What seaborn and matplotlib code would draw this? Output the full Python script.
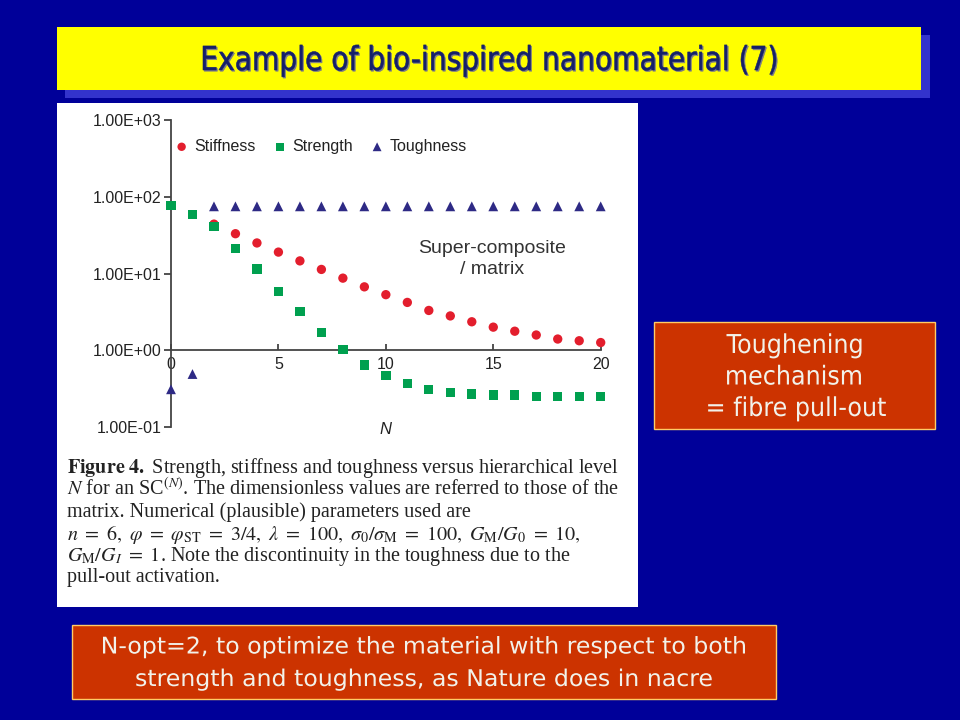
import numpy as np
import pandas as pd
import matplotlib
matplotlib.use('Agg')
import matplotlib.pyplot as plt
import matplotlib.patches as mpatches
from matplotlib.ticker import FixedLocator, NullLocator
from matplotlib.textpath import TextPath
from matplotlib.font_manager import FontProperties
from matplotlib.transforms import Affine2D, IdentityTransform
import seaborn as sns

# values (dimensionless, relative to the matrix)
stiffness_n = [2, 3, 4, 5, 6, 7, 8, 9, 10, 11, 12, 13, 14, 15, 16, 17, 18, 19, 20]
stiffness = [44, 33, 25, 19, 14.6, 11.3, 8.7, 6.7, 5.3, 4.2, 3.3, 2.8, 2.35, 2.0, 1.77, 1.58, 1.40, 1.33, 1.26]
strength_n = [0, 1, 2, 3, 4, 5, 6, 7, 8, 9, 10, 11, 12, 13, 14, 15, 16, 17, 18, 19, 20]
strength = [77, 59, 41, 21, 11.4, 5.8, 3.2, 1.7, 1.03, 0.64, 0.47, 0.37, 0.31, 0.28, 0.27, 0.26, 0.26, 0.25, 0.25, 0.25, 0.25]
toughness_n = [0, 1, 2, 3, 4, 5, 6, 7, 8, 9, 10, 11, 12, 13, 14, 15, 16, 17, 18, 19, 20]
toughness = [0.31, 0.49, 75, 75, 75, 75, 75, 75, 75, 75, 75, 75, 75, 75, 75, 75, 75, 75, 75, 75, 75]

y_ticks = [0.1, 1, 10, 100, 1000]
y_tick_labels = ['1.00E-01', '1.00E+00', '1.00E+01', '1.00E+02', '1.00E+03']
x_ticks = [0, 5, 10, 15, 20]

title = 'Example of bio-inspired nanomaterial (7)'
caption = [
    r'$\mathbf{Figure\ 4.}$ Strength, stiffness and toughness versus hierarchical level',
    r'$N$ for an SC$^{(N)}$. The dimensionless values are referred to those of the',
    'matrix. Numerical (plausible) parameters used are',
    r'$n\ =\ 6,\ \varphi\ =\ \varphi_{\rm ST}\ =\ 3/4,\ \lambda\ =\ 100,\ \sigma_0/\sigma_{\rm M}\ =\ 100,\ G_{\rm M}/G_0\ =\ 10,$',
    r'$G_{\rm M}/G_I\ =\ 1$. Note the discontinuity in the toughness due to the',
    'pull-out activation.',
]
side_lines = ['Toughening', 'mechanism', '= fibre pull-out']
bottom_lines = ['N-opt=2, to optimize the material with respect to both',
                'strength and toughness, as Nature does in nacre']

sns.set_theme(style='white')
plt.rcParams['font.family'] = ['Liberation Sans', 'DejaVu Sans']
plt.rcParams['mathtext.fontset'] = 'stix'

W, H = 960, 720
fig = plt.figure(figsize=(9.6, 7.2), dpi=100, facecolor='#000099')


def box(x0, y0, x1, y1):
    return [x0 / W, 1 - y1 / H, (x1 - x0) / W, (y1 - y0) / H]


def rect(x0, y0, x1, y1, fc, ec='none', lw=0):
    b = box(x0, y0, x1, y1)
    fig.add_artist(mpatches.Rectangle((b[0], b[1]), b[2], b[3], transform=fig.transFigure,
                                      fc=fc, ec=ec, lw=lw, zorder=-1))


def ptext(x, y, s, **kw):
    return fig.text(x / W, 1 - y / H, s, **kw)


def fit_width(t, target):
    r = fig.canvas.get_renderer()
    w = t.get_window_extent(r).width
    t.set_fontsize(t.get_fontsize() * target / w)
    return t.get_fontsize()


# slide fonts are Tahoma-like: draw them as glyph paths, squeezed to the slide's width
prop = FontProperties(family='DejaVu Sans')


def squeeze(s, size, width):
    return width / TextPath((0, 0), s, size=size, prop=prop).get_extents().width


def path_text(s, cx, base, size, sx, color, shadow=None, lw=0):
    tp = TextPath((0, 0), s, size=size, prop=prop)
    bb = tp.get_extents()
    tr = Affine2D().translate(-(bb.x0 + bb.x1) / 2, 0).scale(sx, 1).translate(cx, H - base)
    path = tr.transform_path(tp)
    if shadow:
        sp = Affine2D().translate(1.2, -1.2).transform_path(path)
        fig.add_artist(mpatches.PathPatch(sp, transform=IdentityTransform(), fc=shadow,
                                          ec=shadow, lw=lw, zorder=2))
    fig.add_artist(mpatches.PathPatch(path, transform=IdentityTransform(), fc=color,
                                      ec=color, lw=lw, zorder=3))


# slide furniture
rect(65, 35, 930, 98, '#3333CC')
rect(57, 27, 921, 90, '#FFFF00')
rect(57, 103, 638, 607, 'white')
rect(654, 322, 935, 429, '#CC3300', '#FFCC66', 1)
rect(72, 625, 776, 699, '#CC3300', '#FFCC66', 1)

path_text(title, 489.5, 70, 33, squeeze(title, 33, 573), '#15206A', shadow='#7A7A88', lw=0.4)

# chart
ax = fig.add_axes(box(171, 120, 600.7, 427))
ax.patch.set_alpha(0)
sns.scatterplot(x=stiffness_n, y=stiffness, marker='o', color='#E31E2D', s=45,
                edgecolor='none', label='Stiffness', ax=ax, clip_on=False, zorder=2)
sns.scatterplot(x=strength_n, y=strength, marker='s', color='#00A04F', s=45,
                edgecolor='none', label='Strength', ax=ax, clip_on=False, zorder=3)
sns.scatterplot(x=toughness_n, y=toughness, marker='^', color='#2E2A85', s=50,
                edgecolor='none', label='Toughness', ax=ax, clip_on=False, zorder=3)
ax.set_yscale('log')
ax.set_ylim(0.1, 1000)
ax.set_xlim(0, 20)
ax.yaxis.set_major_locator(FixedLocator(y_ticks))
ax.yaxis.set_minor_locator(NullLocator())
ax.set_yticklabels(y_tick_labels)
ax.set_xticks(x_ticks)
ax.set_xticklabels([str(v) for v in x_ticks])
for s in ['top', 'right']:
    ax.spines[s].set_visible(False)
ax.spines['bottom'].set_position(('data', 1))
for s in ['left', 'bottom']:
    ax.spines[s].set_color('#444444')
    ax.spines[s].set_linewidth(1.3)
ax.tick_params(axis='y', direction='out', length=5, width=1.3, color='#444444',
               labelsize=11.5, labelcolor='#222222', pad=2, left=True)
ax.tick_params(axis='x', direction='in', length=4, width=1.3, color='#444444',
               labelsize=11.5, labelcolor='#222222', pad=5, bottom=True)
ax.set_xlabel('')
ax.set_ylabel('')
ax.legend(loc='upper left', bbox_to_anchor=(-0.005, 0.959), ncol=3, frameon=False,
          fontsize=11.5, handlelength=0.8, handletextpad=0.4, columnspacing=1.1,
          markerscale=0.9, borderaxespad=0, labelcolor='#222222')

ptext(491.7, 259, 'Super-composite\n/ matrix', ha='center', va='center',
      fontsize=14, color='#333333', linespacing=1.35)
ptext(385, 430, 'N', ha='center', va='center', fontsize=12, style='italic', color='#222222')

# caption
cap_y = [473, 495, 517, 540, 561, 582]
cap = [ptext(67, y, s, ha='left', va='baseline', fontsize=13, family='Liberation Serif',
             color='#222222') for y, s in zip(cap_y, caption)]
fs = fit_width(cap[0], 552)
for c in cap[1:]:
    c.set_fontsize(fs)

# side box
sx = squeeze(side_lines[0], 26, 135)
for y, s in zip([353, 384.5, 416], side_lines):
    path_text(s, 797 if s.startswith('=') else 794, y, 26, sx, '#F2F2EA')

# bottom box
sx = squeeze(bottom_lines[0], 23, 642)
for y, s in zip([653.5, 686], bottom_lines):
    path_text(s, 424, y, 23, sx, '#F2F2EA')

fig.savefig('out.png', dpi=100, facecolor=fig.get_facecolor())
